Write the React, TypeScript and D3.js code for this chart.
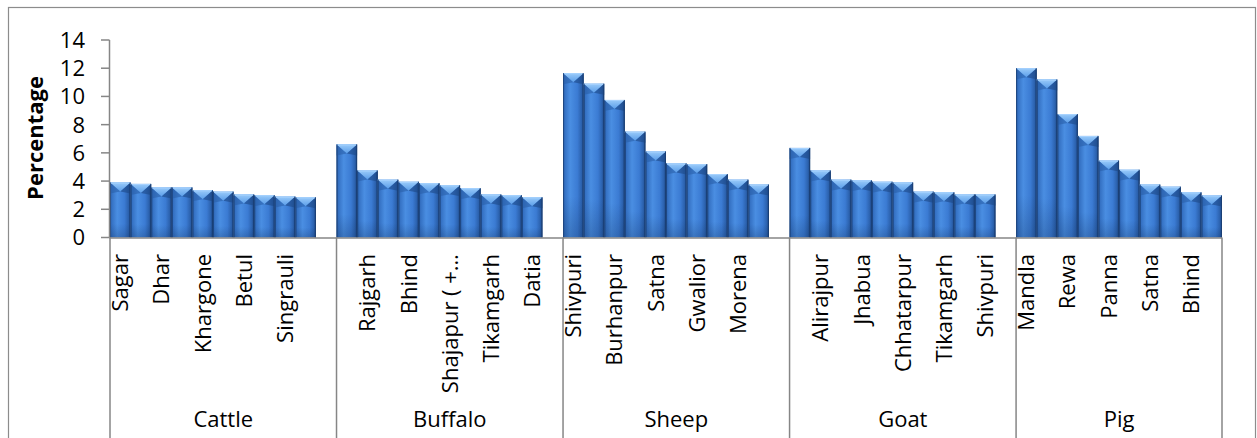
import React from "react";
import * as d3 from "d3";

// Livestock groups and the top ten districts of each (share of state population, %)
const groups = ["Cattle", "Buffalo", "Sheep", "Goat", "Pig"];

// District names; the category axis prints every second slot, so the others stay blank
const cattleDistricts = ["Sagar", "", "Dhar", "", "Khargone", "", "Betul", "", "Singrauli", ""];
const buffaloDistricts = ["", "Rajgarh", "", "Bhind", "", "Shajapur ( +…", "", "Tikamgarh", "", "Datia"];
const sheepDistricts = ["Shivpuri", "", "Burhanpur", "", "Satna", "", "Gwalior", "", "Morena", ""];
const goatDistricts = ["", "Alirajpur", "", "Jhabua", "", "Chhatarpur", "", "Tikamgarh", "", "Shivpuri"];
const pigDistricts = ["Mandla", "", "Rewa", "", "Panna", "", "Satna", "", "Bhind", ""];

const cattleValues = [3.9, 3.8, 3.55, 3.55, 3.35, 3.25, 3.05, 3.0, 2.9, 2.85];
const buffaloValues = [6.6, 4.75, 4.1, 3.95, 3.85, 3.7, 3.5, 3.05, 3.0, 2.85];
const sheepValues = [11.65, 10.9, 9.75, 7.5, 6.1, 5.25, 5.2, 4.5, 4.1, 3.75];
const goatValues = [6.35, 4.75, 4.1, 4.05, 3.95, 3.9, 3.25, 3.2, 3.05, 3.05];
const pigValues = [12.0, 11.2, 8.75, 7.2, 5.45, 4.8, 3.75, 3.6, 3.2, 2.98];

const yTicks = [0, 2, 4, 6, 8, 10, 12, 14];
const yTitle = "Percentage";

const districtLists = [cattleDistricts, buffaloDistricts, sheepDistricts, goatDistricts, pigDistricts];
const valueLists = [cattleValues, buffaloValues, sheepValues, goatValues, pigValues];

const W = 1257;
const H = 438;
const FONT = "'Open Sans', 'DejaVu Sans', sans-serif";
const AXIS = "#868686";

// each group takes 10 slots plus one empty slot before the next group
const SLOTS_PER_GROUP = 11;
const totalSlots = SLOTS_PER_GROUP * (groups.length - 1) + 10;

type Bar = { slot: number; value: number; label: string; group: number };
const bars: Bar[] = [];
valueLists.forEach((vals, g) => {
  vals.forEach((v, i) => {
    bars.push({ slot: g * SLOTS_PER_GROUP + i, value: v, label: districtLists[g][i], group: g });
  });
});

export default function App() {
  const x = d3.scaleBand<number>().domain(d3.range(totalSlots)).range([110, 1222]).padding(0);
  const y = d3.scaleLinear().domain([0, 14]).range([237.5, 40]);
  const bw = x.bandwidth();
  const y0 = y(0);
  const bevel = 9;

  const groupStarts = groups.map((_, g) => x(g * SLOTS_PER_GROUP) as number);
  const groupEnds = groups.map((_, g) =>
    g < groups.length - 1 ? (x((g + 1) * SLOTS_PER_GROUP) as number) : x.range()[1]
  );
  const separators = [...groupStarts, x.range()[1]];

  return (
    <svg
      width={W}
      height={H}
      style={{ position: "absolute", left: 0, top: 0, background: "#fff" }}
      fontFamily={FONT}
    >
      <defs>
        <linearGradient id="barBody" x1="0" x2="1" y1="0" y2="0">
          <stop offset="0" stopColor="#1f4a86" />
          <stop offset="0.08" stopColor="#3470c2" />
          <stop offset="0.35" stopColor="#4a8ee2" />
          <stop offset="0.7" stopColor="#3b7bd3" />
          <stop offset="0.9" stopColor="#2b61ad" />
          <stop offset="1" stopColor="#1a417a" />
        </linearGradient>
        <linearGradient id="barShade" x1="0" x2="0" y1="0" y2="1">
          <stop offset="0.75" stopColor="#0d2a55" stopOpacity="0" />
          <stop offset="1" stopColor="#0d2a55" stopOpacity="0.25" />
        </linearGradient>
        <linearGradient id="barTop" x1="0" x2="0" y1="0" y2="1">
          <stop offset="0" stopColor="#9acbfa" />
          <stop offset="1" stopColor="#5b9ee9" />
        </linearGradient>
      </defs>

      {/* outer chart frame */}
      <rect x={8.5} y={7.5} width={1247} height={H + 10} fill="none" stroke="#8c8c8c" strokeWidth={1.2} />

      {/* bars with bevelled top */}
      {bars.map((b) => {
        const x0 = x(b.slot) as number;
        const top = y(b.value);
        const h = y0 - top;
        return (
          <g key={b.slot}>
            <rect x={x0} y={top} width={bw} height={h} fill="url(#barBody)" />
            <rect x={x0} y={top} width={bw} height={h} fill="url(#barShade)" />
            <polygon points={`${x0},${top} ${x0 + bw},${top} ${x0 + bw / 2},${top + bevel}`} fill="url(#barTop)" />
            <polygon points={`${x0},${top} ${x0 + bw / 2},${top + bevel} ${x0},${top + bevel + 2}`} fill="#2a5fa8" opacity={0.6} />
            <polygon points={`${x0 + bw},${top} ${x0 + bw / 2},${top + bevel} ${x0 + bw},${top + bevel + 2}`} fill="#1d4886" opacity={0.6} />
            <line x1={x0} x2={x0 + bw} y1={top + 0.5} y2={top + 0.5} stroke="#a9d4ff" strokeWidth={1} />
            <line x1={x0 + 0.5} x2={x0 + 0.5} y1={top} y2={y0} stroke="#1e4782" strokeWidth={1} />
            <line x1={x0 + bw - 0.5} x2={x0 + bw - 0.5} y1={top} y2={y0} stroke="#1a3f75" strokeWidth={1} />
          </g>
        );
      })}

      {/* y axis */}
      <line x1={109.5} x2={109.5} y1={y(14)} y2={y0} stroke={AXIS} strokeWidth={1.5} />
      {yTicks.map((t) => (
        <g key={t}>
          <line x1={101} x2={109.5} y1={y(t)} y2={y(t)} stroke={AXIS} strokeWidth={1.5} />
          <text x={85} y={y(t)} dy="0.36em" textAnchor="end" fontSize={22} fill="#000">
            {t}
          </text>
        </g>
      ))}
      <text
        transform={`translate(${43},${138}) rotate(-90)`}
        textAnchor="middle"
        fontSize={22}
        fontWeight="bold"
        fill="#000"
      >
        {yTitle}
      </text>

      {/* category axis */}
      <line x1={109.5} x2={x.range()[1]} y1={y0 + 0.5} y2={y0 + 0.5} stroke={AXIS} strokeWidth={1.5} />
      {separators.map((sx, i) => (
        <line key={i} x1={sx} x2={sx} y1={y0} y2={H} stroke={AXIS} strokeWidth={1.5} />
      ))}
      {bars
        .filter((b) => b.label)
        .map((b) => (
          <text
            key={`l${b.slot}`}
            transform={`translate(${(x(b.slot) as number) + bw / 2},${254}) rotate(-90)`}
            textAnchor="end"
            dy="0.36em"
            fontSize={22}
            fill="#000"
          >
            {b.label}
          </text>
        ))}
      {groups.map((g, i) => (
        <text
          key={g}
          x={(groupStarts[i] + groupEnds[i]) / 2}
          y={427}
          textAnchor="middle"
          fontSize={22}
          fill="#000"
        >
          {g}
        </text>
      ))}
    </svg>
  );
}
